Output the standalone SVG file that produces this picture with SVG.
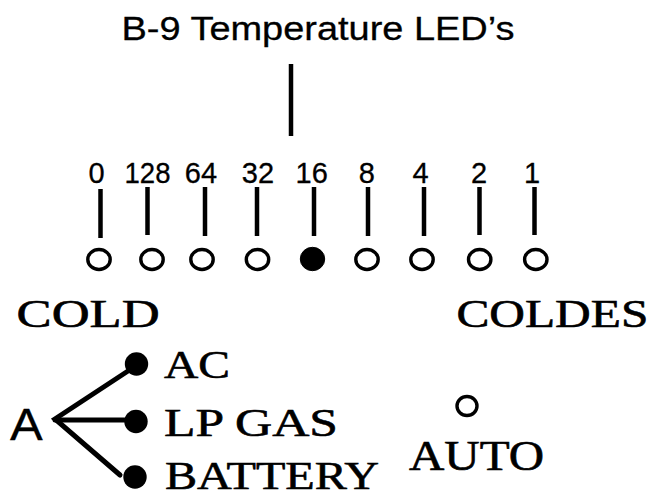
<svg xmlns="http://www.w3.org/2000/svg" width="649" height="498" viewBox="0 0 649 498">
<style>
.sans{font-family:"Liberation Sans",Arial,sans-serif;fill:#000;stroke:#000;stroke-width:0.3}
.serif{font-family:"Liberation Serif","Times New Roman",serif;fill:#000;stroke:#000;stroke-width:0.6}
.num{font-size:29px;text-anchor:middle}
.tick{stroke:#000;stroke-width:4.5;fill:none}
.led{fill:#fff;stroke:#000;stroke-width:3.4}
.on{fill:#000;stroke:#000;stroke-width:1}
.wire{stroke:#000;stroke-width:5;fill:none;stroke-linecap:round}
.dot{fill:#000}
</style>
<rect width="649" height="498" fill="#fff"/>
<g id="title">
<text class="sans" x="121.5" y="40" font-size="32.5" textLength="393" lengthAdjust="spacingAndGlyphs">B-9 Temperature LED’s</text>
</g>
<g id="connectors">
<line class="tick" x1="291" y1="64" x2="291" y2="136"/>
<line class="tick" x1="100.5" y1="189" x2="100.5" y2="238"/>
<line class="tick" x1="147.5" y1="187" x2="147.5" y2="235"/>
<line class="tick" x1="205" y1="187" x2="205" y2="236"/>
<line class="tick" x1="257" y1="187" x2="257" y2="236"/>
<line class="tick" x1="314" y1="187" x2="314" y2="236"/>
<line class="tick" x1="368" y1="187" x2="368" y2="236"/>
<line class="tick" x1="424" y1="187" x2="424" y2="236"/>
<line class="tick" x1="479.5" y1="187" x2="479.5" y2="235"/>
<line class="tick" x1="534.5" y1="187" x2="534.5" y2="235"/>
<polyline class="wire" points="128,371 55,419 120,475"/>
<line class="wire" x1="55" y1="420" x2="130" y2="420"/>
</g>
<g id="led-0"><text class="sans num" x="96.5" y="182.5">0</text><ellipse class="led" cx="99" cy="259.5" rx="11.2" ry="10"/></g>
<g id="led-128"><text class="sans num" x="147.5" y="182.5" textLength="46" lengthAdjust="spacingAndGlyphs">128</text><ellipse class="led" cx="152" cy="259.5" rx="11.2" ry="10"/></g>
<g id="led-64"><text class="sans num" x="201" y="182.5">64</text><ellipse class="led" cx="202" cy="259.5" rx="11.2" ry="10"/></g>
<g id="led-32"><text class="sans num" x="258" y="182.5">32</text><ellipse class="led" cx="257.5" cy="259.5" rx="11.2" ry="10"/></g>
<g id="led-16"><text class="sans num" x="311.7" y="182.5">16</text><ellipse class="on" cx="312.5" cy="259" rx="12.2" ry="11.7"/></g>
<g id="led-8"><text class="sans num" x="366.7" y="182.5">8</text><ellipse class="led" cx="367" cy="259.5" rx="11.2" ry="10"/></g>
<g id="led-4"><text class="sans num" x="420.5" y="182.5">4</text><ellipse class="led" cx="422" cy="259.5" rx="11.2" ry="10"/></g>
<g id="led-2"><text class="sans num" x="479" y="182.5">2</text><ellipse class="led" cx="479.7" cy="259.5" rx="11.2" ry="10"/></g>
<g id="led-1"><text class="sans num" x="532" y="182.5">1</text><ellipse class="led" cx="535.8" cy="259.5" rx="11.2" ry="10"/></g>
<g id="cold"><text class="serif" x="16.6" y="326.7" font-size="39" textLength="143" lengthAdjust="spacingAndGlyphs">COLD</text></g>
<g id="coldest"><text class="serif" x="456.4" y="326.7" font-size="39" textLength="192" lengthAdjust="spacingAndGlyphs">COLDES</text></g>
<g id="a"><text class="sans" x="10" y="439.5" font-size="45" textLength="32.7" lengthAdjust="spacingAndGlyphs">A</text></g>
<g id="ac"><circle class="dot" cx="136.5" cy="364" r="11.7"/><text class="serif" x="164" y="378" font-size="40" textLength="66" lengthAdjust="spacingAndGlyphs">AC</text></g>
<g id="lpgas"><circle class="dot" cx="136" cy="421.5" r="11.7"/><text class="serif" x="164" y="435.5" font-size="40" textLength="174" lengthAdjust="spacingAndGlyphs">LP GAS</text></g>
<g id="battery"><circle class="dot" cx="135" cy="477" r="11.7"/><text class="serif" x="165" y="488.5" font-size="40" textLength="214" lengthAdjust="spacingAndGlyphs">BATTERY</text></g>
<g id="auto"><ellipse class="led" cx="467" cy="406" rx="10" ry="9.5"/><text class="serif" x="409" y="469.5" font-size="42" textLength="135" lengthAdjust="spacingAndGlyphs">AUTO</text></g>
</svg>
